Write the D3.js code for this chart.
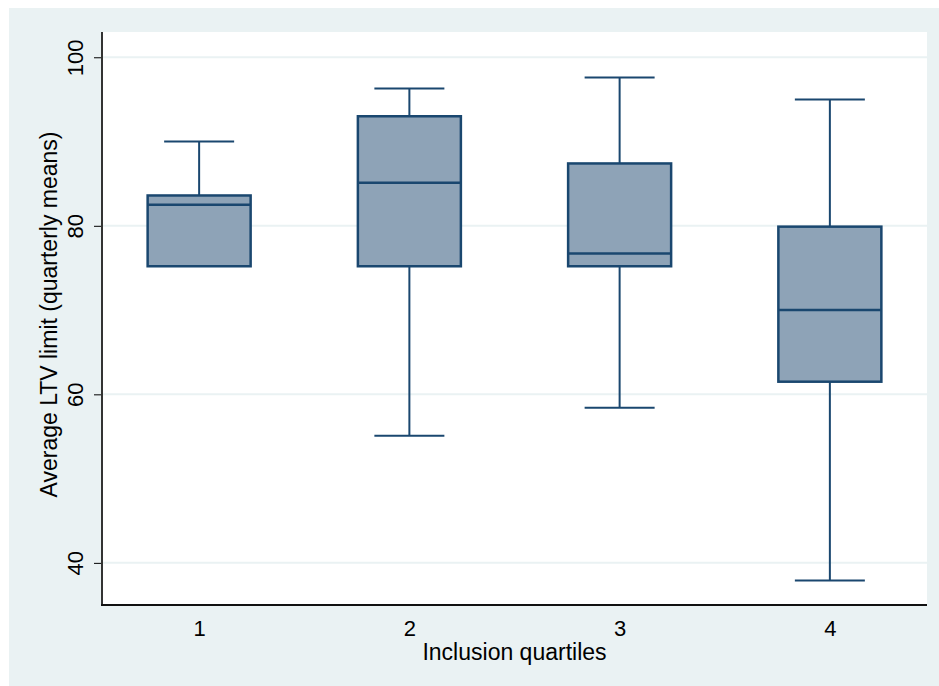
<!DOCTYPE html>
<html>
<head>
<meta charset="utf-8">
<script src="https://cdn.jsdelivr.net/npm/d3@7"></script>
<style>
  body { margin: 0; background: #fff; }
  text { font-family: "Liberation Sans", Arial, sans-serif; fill: #000; }
</style>
</head>
<body>
<div id="chart"></div>
<script>
var w = 939;
var h = 686;

// quartile groups and box statistics
var groups = ["1", "2", "3", "4"];
var lowerWhisker = [75.2, 55.1, 58.4, 37.9];
var q1Values = [75.2, 75.2, 75.2, 61.5];
var medians = [82.5, 85.1, 76.7, 70.0];
var q3Values = [83.6, 93.0, 87.4, 79.9];
var upperWhisker = [90.0, 96.3, 97.6, 95.0];
var yTicks = [40, 60, 80, 100];

var boxes = groups.map(function(g, i) {
  return {key: g, lo: lowerWhisker[i], q1: q1Values[i], med: medians[i],
          q3: q3Values[i], hi: upperWhisker[i]};
});

var plot = {left: 102, right: 927, top: 32, bottom: 605};
var navy = "#1a476f";
var fill = "#8ea3b7";

var xScale = d3.scalePoint()
               .domain(groups)
               .range([plot.left, plot.right])
               .padding(0.462);

var yScale = d3.scaleLinear()
               .domain([35, 103])
               .range([plot.bottom, plot.top]);

var boxW = 103;
var capW = 70;

var svg = d3.select("#chart")
            .append("svg")
            .attr("width", w)
            .attr("height", h);

// outer background and plot region
svg.append("rect")
   .attr("x", 9).attr("y", 8)
   .attr("width", w - 9).attr("height", h - 8)
   .attr("fill", "#eaf2f3");

svg.append("rect")
   .attr("x", plot.left).attr("y", plot.top)
   .attr("width", plot.right - plot.left)
   .attr("height", plot.bottom - plot.top)
   .attr("fill", "#fff");

// gridlines
svg.append("g")
   .selectAll("line")
   .data(yTicks)
   .enter()
   .append("line")
   .attr("x1", plot.left).attr("x2", plot.right)
   .attr("y1", function(d) { return yScale(d); })
   .attr("y2", function(d) { return yScale(d); })
   .attr("stroke", "#eaf2f3")
   .attr("stroke-width", 2);

// whiskers
var bx = svg.append("g")
            .selectAll("g")
            .data(boxes)
            .enter()
            .append("g")
            .attr("transform", function(d) { return "translate(" + xScale(d.key) + ",0)"; });

bx.append("line")
  .attr("x1", 0).attr("x2", 0)
  .attr("y1", function(d) { return yScale(d.hi); })
  .attr("y2", function(d) { return yScale(d.q3); })
  .attr("stroke", navy).attr("stroke-width", 2);

bx.append("line")
  .attr("x1", 0).attr("x2", 0)
  .attr("y1", function(d) { return yScale(d.q1); })
  .attr("y2", function(d) { return yScale(d.lo); })
  .attr("stroke", navy).attr("stroke-width", 2);

bx.append("line")
  .attr("x1", -capW / 2).attr("x2", capW / 2)
  .attr("y1", function(d) { return yScale(d.hi); })
  .attr("y2", function(d) { return yScale(d.hi); })
  .attr("stroke", navy).attr("stroke-width", 2);

bx.filter(function(d) { return d.lo < d.q1; })
  .append("line")
  .attr("x1", -capW / 2).attr("x2", capW / 2)
  .attr("y1", function(d) { return yScale(d.lo); })
  .attr("y2", function(d) { return yScale(d.lo); })
  .attr("stroke", navy).attr("stroke-width", 2);

bx.append("rect")
  .attr("x", -boxW / 2)
  .attr("width", boxW)
  .attr("y", function(d) { return yScale(d.q3); })
  .attr("height", function(d) { return yScale(d.q1) - yScale(d.q3); })
  .attr("fill", fill)
  .attr("stroke", navy)
  .attr("stroke-width", 2.5);

bx.append("line")
  .attr("x1", -boxW / 2).attr("x2", boxW / 2)
  .attr("y1", function(d) { return yScale(d.med); })
  .attr("y2", function(d) { return yScale(d.med); })
  .attr("stroke", navy).attr("stroke-width", 2.5);

// axes
var yAxis = d3.axisLeft(yScale)
              .tickValues(yTicks)
              .tickSize(8)
              .tickPadding(4);

var gy = svg.append("g")
            .attr("transform", "translate(" + plot.left + ",0)")
            .call(yAxis);
gy.select(".domain").remove();
gy.selectAll(".tick line").attr("stroke", "#000");
gy.selectAll(".tick text")
  .attr("font-size", 22)
  .attr("font-family", "Liberation Sans, Arial, sans-serif")
  .attr("x", 0).attr("dy", 0)
  .attr("text-anchor", "middle")
  .attr("transform", "translate(-19,0) rotate(-90)");

var xAxis = d3.axisBottom(xScale)
              .tickSize(0)
              .tickPadding(14);

var gx = svg.append("g")
            .attr("transform", "translate(0," + plot.bottom + ")")
            .call(xAxis);
gx.select(".domain").remove();
gx.selectAll(".tick text")
  .attr("font-size", 22)
  .attr("font-family", "Liberation Sans, Arial, sans-serif")
  .attr("dy", 0)
  .attr("y", 31);

svg.append("line")
   .attr("x1", plot.left).attr("x2", plot.left)
   .attr("y1", plot.top).attr("y2", plot.bottom + 1)
   .attr("stroke", "#333").attr("stroke-width", 2);

svg.append("line")
   .attr("x1", plot.left - 1).attr("x2", plot.right)
   .attr("y1", plot.bottom).attr("y2", plot.bottom)
   .attr("stroke", "#111").attr("stroke-width", 2);

// axis titles
svg.append("text")
   .attr("x", (plot.left + plot.right) / 2)
   .attr("y", 660)
   .attr("text-anchor", "middle")
   .attr("font-size", 23)
   .text("Inclusion quartiles");

svg.append("text")
   .attr("transform", "translate(57," + ((plot.top + plot.bottom) / 2 - 4) + ") rotate(-90)")
   .attr("text-anchor", "middle")
   .attr("font-size", 23)
   .text("Average LTV limit (quarterly means)");
</script>
</body>
</html>
